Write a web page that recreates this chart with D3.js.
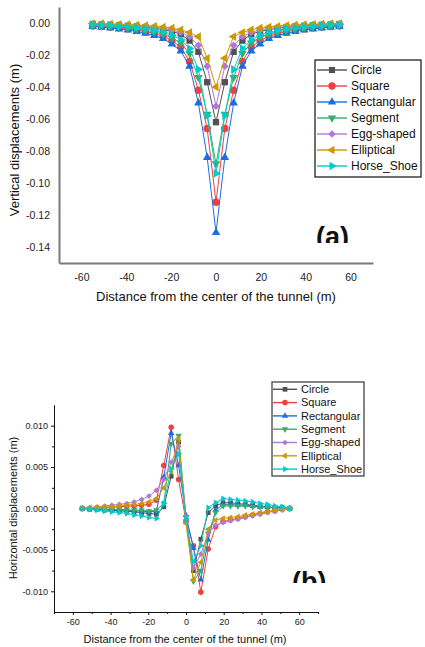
<!DOCTYPE html>
<html><head><meta charset="utf-8">
<script src="https://cdn.jsdelivr.net/npm/d3@7"></script>
<style>body{margin:0;background:#fff} svg{display:block} text{font-family:"Liberation Sans",Arial,sans-serif}</style>
</head><body><svg id="c" width="425" height="647"></svg>
<script>
const xs = [-55,-51.07,-47.14,-43.21,-39.29,-35.36,-31.43,-27.5,-23.57,-19.64,-15.71,-11.79,-7.86,-3.93,0,3.93,7.86,11.79,15.71,19.64,23.57,27.5,31.43,35.36,39.29,43.21,47.14,51.07,55];
const seriesNames = ["Circle","Square","Rectangular","Segment","Egg-shaped","Elliptical","Horse_Shoe"];
const colors = ["#515151","#F14040","#1A6FDF","#37AD6B","#B177DE","#CC9900","#00CBCC"];

// (a) vertical displacements (m)
const vCircle = [-0.0008,-0.001,-0.0012,-0.0015,-0.0018,-0.0022,-0.0027,-0.0033,-0.0041,-0.0052,-0.007,-0.011,-0.018,-0.037,-0.062,-0.037,-0.018,-0.011,-0.007,-0.0052,-0.0041,-0.0033,-0.0027,-0.0022,-0.0018,-0.0015,-0.0012,-0.001,-0.0008];
const vSquare = [-0.0018,-0.0021,-0.0025,-0.003,-0.0036,-0.0044,-0.0054,-0.0066,-0.0082,-0.011,-0.015,-0.024,-0.042,-0.066,-0.112,-0.066,-0.042,-0.024,-0.015,-0.011,-0.0082,-0.0066,-0.0054,-0.0044,-0.0036,-0.003,-0.0025,-0.0021,-0.0018];
const vRect = [-0.0022,-0.0026,-0.0031,-0.0037,-0.0044,-0.0053,-0.0064,-0.0078,-0.0097,-0.0132,-0.0175,-0.027,-0.05,-0.084,-0.131,-0.084,-0.05,-0.027,-0.0175,-0.0132,-0.0097,-0.0078,-0.0064,-0.0053,-0.0044,-0.0037,-0.0031,-0.0026,-0.0022];
const vSegment = [-0.0015,-0.0018,-0.0022,-0.0026,-0.0031,-0.0038,-0.0046,-0.0056,-0.007,-0.0092,-0.0125,-0.019,-0.034,-0.057,-0.088,-0.057,-0.034,-0.019,-0.0125,-0.0092,-0.007,-0.0056,-0.0046,-0.0038,-0.0031,-0.0026,-0.0022,-0.0018,-0.0015];
const vEgg = [-0.0006,-0.0008,-0.001,-0.0012,-0.0015,-0.0018,-0.0022,-0.0027,-0.0034,-0.0044,-0.0058,-0.0085,-0.014,-0.027,-0.052,-0.027,-0.014,-0.0085,-0.0058,-0.0044,-0.0034,-0.0027,-0.0022,-0.0018,-0.0015,-0.0012,-0.001,-0.0008,-0.0006];
const vEllip = [-0.0003,-0.0004,-0.0006,-0.0008,-0.001,-0.0013,-0.0016,-0.002,-0.0025,-0.0032,-0.0042,-0.006,-0.0085,-0.022,-0.04,-0.022,-0.0085,-0.006,-0.0042,-0.0032,-0.0025,-0.002,-0.0016,-0.0013,-0.001,-0.0008,-0.0006,-0.0004,-0.0003];
const vHorse = [-0.001,-0.0013,-0.0016,-0.002,-0.0025,-0.003,-0.0037,-0.0046,-0.0058,-0.0076,-0.0105,-0.016,-0.029,-0.058,-0.094,-0.058,-0.029,-0.016,-0.0105,-0.0076,-0.0058,-0.0046,-0.0037,-0.003,-0.0025,-0.002,-0.0016,-0.0013,-0.001];

// (b) horizontal displacements (m)
const hCircle = [0,-0.0001,-0.0001,-0.0002,-0.0002,-0.0003,-0.0003,-0.0004,-0.0005,-0.0006,-0.0007,0.0002,0.0039,0.008,-0.0015,-0.0075,-0.0037,-0.0005,0.0003,0.0007,0.0007,0.0006,0.0005,0.0004,0.0003,0.0002,0.0001,0.0001,0];
const hSquare = [0,0,0.0001,0.0001,0.0002,0.0002,0.0003,0.0003,0.0004,0.0005,0.001,0.0052,0.0098,0.0035,-0.0015,-0.0045,-0.0101,-0.0049,-0.0022,-0.0016,-0.0014,-0.0012,-0.001,-0.0008,-0.0006,-0.0004,-0.0003,-0.0001,0];
const hRect = [0,0,-0.0001,-0.0001,-0.0001,-0.0002,-0.0002,-0.0003,-0.0003,-0.0004,-0.0003,0.0038,0.0091,0.0052,-0.0008,-0.0048,-0.0086,-0.0038,-0.0002,0.0005,0.0005,0.0004,0.0004,0.0003,0.0002,0.0002,0.0001,0.0001,0];
const hSegment = [0,0,0,-0.0001,-0.0001,-0.0001,-0.0002,-0.0002,-0.0002,-0.0003,-0.0002,0.0006,0.0078,0.0088,-0.001,-0.0088,-0.0075,-0.003,-0.0005,0.0003,0.0003,0.0003,0.0003,0.0002,0.0002,0.0001,0.0001,0,0];
const hEgg = [0,0.0001,0.0002,0.0003,0.0004,0.0005,0.0006,0.0008,0.0011,0.0015,0.0022,0.0035,0.0056,0.0075,-0.001,-0.0072,-0.0055,-0.003,-0.002,-0.0017,-0.0015,-0.0013,-0.0011,-0.0009,-0.0007,-0.0005,-0.0003,-0.0002,0];
const hEllip = [0,0.0001,0.0001,0.0002,0.0002,0.0003,0.0004,0.0005,0.0006,0.0008,0.0012,0.0025,0.0045,0.0084,-0.0018,-0.0086,-0.0065,-0.0025,-0.0014,-0.0012,-0.0011,-0.001,-0.0008,-0.0007,-0.0005,-0.0004,-0.0002,-0.0001,0];
const hHorse = [0,-0.0001,-0.0002,-0.0003,-0.0004,-0.0005,-0.0006,-0.0008,-0.0009,-0.0011,-0.0012,0.0006,0.0048,0.0066,-0.0012,-0.0064,-0.0045,0.0001,0.0007,0.0012,0.0011,0.001,0.0009,0.0008,0.0006,0.0005,0.0003,0.0002,0];

const xTicks = [-60,-40,-20,0,20,40,60];
const xMinor = [-70,-50,-30,-10,10,30,50,70];
const vTicks = [0,-0.02,-0.04,-0.06,-0.08,-0.1,-0.12,-0.14];
const hTicks = [0.01,0.005,0,-0.005,-0.01];
const hMinor = [0.0075,0.0025,-0.0025,-0.0075];

const vSeries = [vCircle,vSquare,vRect,vSegment,vEgg,vEllip,vHorse];
const hSeries = [hCircle,hSquare,hRect,hSegment,hEgg,hEllip,hHorse];

const shapes = [[d3.symbolSquare,0],[d3.symbolCircle,0],[d3.symbolTriangle,0],[d3.symbolTriangle,180],[d3.symbolSquare,45],[d3.symbolTriangle,-90],[d3.symbolTriangle,90]];
const sizeAdj = [1,1.1,0.8,0.8,0.75,0.8,0.8];

const svg = d3.select("#c");

function drawSeries(g, xS, yS, series, msize){
  series.forEach((vals,i)=>{
    const pts = xs.map((x,j)=>[x,vals[j]]);
    g.append("path").datum(pts)
      .attr("d", d3.line().x(d=>xS(d[0])).y(d=>yS(d[1])))
      .attr("fill","none").attr("stroke",colors[i]).attr("stroke-width",1);
    const sym = d3.symbol().type(shapes[i][0]).size(msize*sizeAdj[i]);
    g.selectAll(null).data(pts).enter().append("path")
      .attr("d", sym)
      .attr("transform", d=>`translate(${xS(d[0])},${yS(d[1])}) rotate(${shapes[i][1]})`)
      .attr("fill",colors[i]);
  });
}

function legend(g, x0, y0, dy, lineLen, msize, fs){
  seriesNames.forEach((n,i)=>{
    const y = y0 + i*dy;
    g.append("line").attr("x1",x0).attr("x2",x0+lineLen).attr("y1",y).attr("y2",y)
      .attr("stroke",colors[i]).attr("stroke-width",1.4);
    g.append("path").attr("d", d3.symbol().type(shapes[i][0]).size(msize*sizeAdj[i]))
      .attr("transform",`translate(${x0+lineLen/2},${y}) rotate(${shapes[i][1]})`).attr("fill",colors[i]);
    g.append("text").attr("x",x0+lineLen+4).attr("y",y).attr("dy","0.35em")
      .attr("font-size",fs).attr("fill","#111").text(n);
  });
}

// ---------- Chart (a) ----------
const xA = d3.scaleLinear().domain([-70,70]).range([59,373]);
const yA = d3.scaleLinear().domain([0.01,-0.15]).range([7,263]);
const gA = svg.append("g");

const axA_y = gA.append("g").attr("transform","translate(59,0)")
  .call(d3.axisLeft(yA).tickValues(vTicks).tickSize(0).tickSizeOuter(0).tickPadding(9).tickFormat(d=>d.toFixed(2)));
const axA_x = gA.append("g").attr("transform","translate(0,263)")
  .call(d3.axisBottom(xA).tickValues(xTicks).tickSize(0).tickSizeOuter(0).tickPadding(11).tickFormat(d=>String(d)));
[axA_x, axA_y].forEach(a=>{
  a.select(".domain").attr("stroke","#7a7a7a").attr("stroke-width",2);
  a.selectAll("text").attr("font-size",10.5).attr("fill","#222").attr("font-family","Liberation Sans, Arial, sans-serif");
});

drawSeries(gA.append("g"), xA, yA, vSeries, 40);

gA.append("text").attr("x",216).attr("y",301).attr("text-anchor","middle").attr("font-size",13).attr("fill","#111")
  .text("Distance from the center of the tunnel (m)");
gA.append("text").attr("transform","translate(19,140) rotate(-90)").attr("text-anchor","middle").attr("font-size",13).attr("fill","#111")
  .text("Vertical displacements (m)");

gA.append("rect").attr("x",315).attr("y",60).attr("width",106).attr("height",117)
  .attr("fill","#fff").attr("stroke","#222").attr("stroke-width",1.3);
legend(gA, 317, 70, 16, 30, 38, 12);

svg.append("clipPath").attr("id","clipA").append("rect").attr("x",300).attr("y",200).attr("width",80).attr("height",43);
gA.append("text").attr("clip-path","url(#clipA)").attr("x",316).attr("y",245.5)
  .attr("font-family","Open Sans").attr("font-weight","bold").attr("font-size",27).attr("fill","#111").text("(a)");

// ---------- Chart (b) ----------
const xB = d3.scaleLinear().domain([-70,70]).range([54,318]);
const yB = d3.scaleLinear().domain([0.0125,-0.0125]).range([405,612]);
const gB = svg.append("g");

drawSeries(gB.append("g"), xB, yB, hSeries, 22);

const axB_y = gB.append("g").attr("transform","translate(54,0)")
  .call(d3.axisLeft(yB).tickValues(hTicks).tickSize(3).tickSizeOuter(0).tickPadding(3).tickFormat(d=>d.toFixed(3)));
const axB_ym = gB.append("g").attr("transform","translate(54,0)")
  .call(d3.axisLeft(yB).tickValues(hMinor).tickSize(2).tickSizeOuter(0).tickFormat(""));
const axB_x = gB.append("g").attr("transform","translate(0,612)")
  .call(d3.axisBottom(xB).tickValues(xTicks).tickSize(3).tickSizeOuter(0).tickPadding(4).tickFormat(d=>String(d)));
const axB_xm = gB.append("g").attr("transform","translate(0,612)")
  .call(d3.axisBottom(xB).tickValues(xMinor).tickSize(2).tickSizeOuter(0).tickFormat(""));
[axB_y, axB_ym, axB_x, axB_xm].forEach(a=>{
  a.select(".domain").attr("stroke","#111").attr("stroke-width",1);
  a.selectAll("line").attr("stroke","#111");
  a.selectAll("text").attr("font-size",9).attr("fill","#222").attr("font-family","Liberation Sans, Arial, sans-serif");
});

gB.append("text").attr("x",185).attr("y",643).attr("text-anchor","middle").attr("font-size",11).attr("fill","#111")
  .text("Distance from the center of the tunnel (m)");
gB.append("text").attr("transform","translate(17,508) rotate(-90)").attr("text-anchor","middle").attr("font-size",11).attr("fill","#111")
  .text("Horizontal displacements (m)");

gB.append("rect").attr("x",272).attr("y",382).attr("width",92).attr("height",94)
  .attr("fill","#fff").attr("stroke","#444").attr("stroke-width",1.3);
legend(gB, 273, 389.3, 13.3, 24, 22, 11);

svg.append("clipPath").attr("id","clipB").append("rect").attr("x",280).attr("y",550).attr("width",80).attr("height",33);
gB.append("text").attr("clip-path","url(#clipB)").attr("x",292).attr("y",591)
  .attr("font-family","Open Sans").attr("font-weight","bold").attr("font-size",27).attr("fill","#111").text("(b)");
</script></body></html>
